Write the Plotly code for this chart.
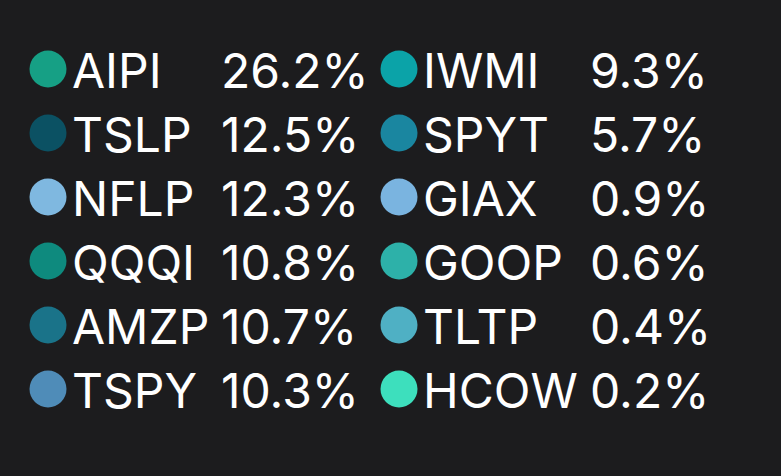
import plotly.graph_objects as go

# holdings (two columns of six)
tickers = ["AIPI", "TSLP", "NFLP", "QQQI", "AMZP", "TSPY",
           "IWMI", "SPYT", "GIAX", "GOOP", "TLTP", "HCOW"]
weights = [26.2, 12.5, 12.3, 10.8, 10.7, 10.3,
           9.3, 5.7, 0.9, 0.6, 0.4, 0.2]
colors = ["#16a085", "#0b5163", "#7fb8e0", "#0e8a7e", "#1a7389", "#4f8cb8",
          "#0ba3a8", "#1a86a0", "#7ab4e0", "#2db1a9", "#4fb0c4", "#3ddfbd"]

rows = 6
col = [i // rows for i in range(len(tickers))]
row = [i % rows for i in range(len(tickers))]

# pixel layout (781x476 window)
W, H = 781, 476
colgap = 351.0   # px between the two columns
rowgap = 64.0    # px between rows
x0, y0 = 48.0, 69.0
name_off = 24.0 / colgap
val_off = [173.0 / colgap, 191.0 / colgap]   # value column per table column
text_dy = 6.5 / rowgap

fnt = dict(family="Inter", size=48, color="#ffffff")

fig = go.Figure()

fig.add_trace(go.Scatter(x=col, y=row, mode="markers",
                         marker=dict(color=colors, size=37, line=dict(width=0)),
                         hoverinfo="skip"))
fig.add_trace(go.Scatter(x=[c + name_off for c in col], y=[r + text_dy for r in row],
                         mode="text", text=tickers, textposition="middle right",
                         textfont=fnt, hoverinfo="skip"))
fig.add_trace(go.Scatter(x=[c + val_off[c] for c in col], y=[r + text_dy for r in row],
                         mode="text", text=["{0:.1f}%".format(w) for w in weights],
                         textposition="middle right", textfont=fnt, hoverinfo="skip"))

fig.update_xaxes(range=[-x0 / colgap, (W - x0) / colgap], visible=False)
fig.update_yaxes(range=[(H - y0) / rowgap, -y0 / rowgap], visible=False)
fig.update_layout(width=W, height=H, margin=dict(l=0, r=0, t=0, b=0),
                  paper_bgcolor="#1c1c1e", plot_bgcolor="#1c1c1e",
                  showlegend=False)

fig.write_html("out.html", config={"displayModeBar": False},
               post_script="document.body.style.margin='0';"
                           "document.body.style.background='#1c1c1e';")
